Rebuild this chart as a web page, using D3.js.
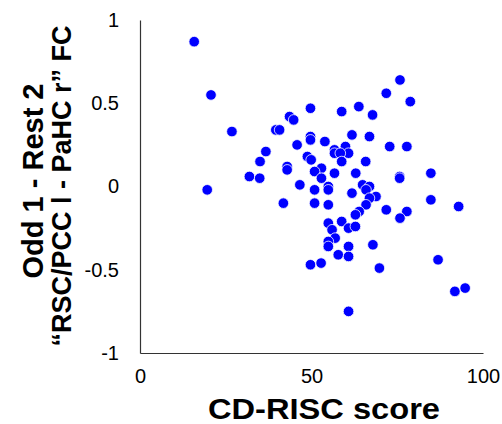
<!DOCTYPE html>
<html>
<head>
<meta charset="utf-8">
<script src="https://cdn.jsdelivr.net/npm/d3@7"></script>
<style>
  body { margin: 0; background: #fff; }
  svg { display: block; font-family: "Liberation Sans", Arial, sans-serif; }
  .axis path { stroke: #333; stroke-width: 1.2; }
  .axis text { font-size: 20px; fill: #000; }
</style>
</head>
<body>
<script>
// CD-RISC score per subject
let riscScore = [15.8, 20.7, 26.8, 19.6, 31.9, 34.9, 35.0, 36.7, 39.6, 40.7,
                 43.6, 44.8, 45.8, 42.9, 42.9, 46.6, 41.8, 49.7, 49.7, 49.7,
                 53.9, 48.8, 49.9, 52.9, 50.9, 52.9, 50.9, 54.9, 54.9, 56.7,
                 59.9, 56.7, 60.8, 58.4, 58.8, 56.7, 58.8, 63.8, 67.8, 61.8,
                 66.9, 65.8, 62.9, 71.8, 75.8, 78.8, 72.8, 77.8, 75.7, 75.7,
                 84.8, 61.8, 64.9, 66.9, 65.9, 68.8, 66.9, 84.8, 50.9, 54.9,
                 65.9, 63.9, 62.8, 71.8, 77.8, 75.8, 92.9, 54.9, 56.0, 58.8,
                 60.8, 62.8, 56.9, 54.9, 54.9, 60.8, 57.8, 60.8, 67.9, 49.7,
                 52.8, 69.8, 86.9, 91.8, 94.8, 60.8];
// Odd 1 - Rest 2 FC
let fcValue = [0.87, 0.55, 0.33, -0.02, 0.06, 0.05, 0.15, 0.21, 0.34, 0.34,
               0.42, 0.40, 0.25, 0.12, 0.10, 0.01, -0.10, 0.47, 0.30, 0.28,
               0.27, 0.18, 0.16, 0.11, 0.09, 0.05, -0.02, 0.00, -0.02, 0.22,
               0.24, 0.20, 0.20, 0.20, 0.15, 0.08, 0.45, 0.48, 0.43, 0.31,
               0.30, 0.15, 0.08, 0.56, 0.64, 0.51, 0.24, 0.24, 0.06, 0.05,
               0.08, -0.04, 0.01, 0.00, -0.02, -0.06, -0.07, -0.08, -0.10, -0.11,
               -0.11, -0.15, -0.17, -0.14, -0.15, -0.19, -0.12, -0.22, -0.26, -0.21,
               -0.25, -0.24, -0.31, -0.33, -0.36, -0.36, -0.41, -0.42, -0.35, -0.47,
               -0.46, -0.49, -0.44, -0.63, -0.61, -0.75];

let xTicks = [0, 50, 100];
let yTicks = [-1, -0.5, 0, 0.5, 1];

let xTitle = "CD-RISC score";
let yTitle1 = "Odd 1 - Rest 2";
let yTitle2 = "\u201cRSC/PCC l - PaHC r\u201d FC";

let svgWidth = 502,
    svgHeight = 424,
    plot = { left: 140, right: 483, top: 20, bottom: 353 };

let svg = d3.select("body").append("svg")
    .attr("width", svgWidth)
    .attr("height", svgHeight);

let xScale = d3.scaleLinear().domain([0, 100]).range([plot.left, plot.right]);
let yScale = d3.scaleLinear().domain([-1, 1]).range([plot.bottom, plot.top]);

let fmt = d => String(d);

svg.append("g")
    .attr("class", "axis")
    .attr("transform", "translate(" + plot.left + ",0)")
    .call(d3.axisLeft(yScale).tickValues(yTicks).tickFormat(fmt).tickSize(0).tickPadding(21));

svg.append("g")
    .attr("class", "axis")
    .attr("transform", "translate(0," + plot.bottom + ")")
    .call(d3.axisBottom(xScale).tickValues(xTicks).tickFormat(fmt).tickSize(0).tickPadding(16));

svg.selectAll(".axis").attr("font-family", null).attr("font-size", null);

// points
let points = riscScore.map((x, i) => ({ x: x, y: fcValue[i] }));
svg.append("g")
    .selectAll("circle")
    .data(points)
    .join("circle")
    .attr("cx", d => xScale(d.x))
    .attr("cy", d => yScale(d.y))
    .attr("r", 5.3)
    .style("fill", "#0000ff")
    .style("stroke", "#ffffff")
    .style("stroke-width", 0.8);

// titles
svg.append("text")
    .attr("x", 324)
    .attr("y", 419)
    .attr("text-anchor", "middle")
    .attr("textLength", 232)
    .attr("lengthAdjust", "spacingAndGlyphs")
    .style("font-size", "29px")
    .style("font-weight", "bold")
    .text(xTitle);

svg.append("text")
    .attr("transform", "translate(43,181) rotate(-90)")
    .attr("text-anchor", "middle")
    .style("font-size", "29px")
    .style("font-weight", "bold")
    .text(yTitle1);

svg.append("text")
    .attr("transform", "translate(71,186) rotate(-90)")
    .attr("text-anchor", "middle")
    .style("font-size", "27px")
    .style("font-weight", "bold")
    .text(yTitle2);
</script>
</body>
</html>
